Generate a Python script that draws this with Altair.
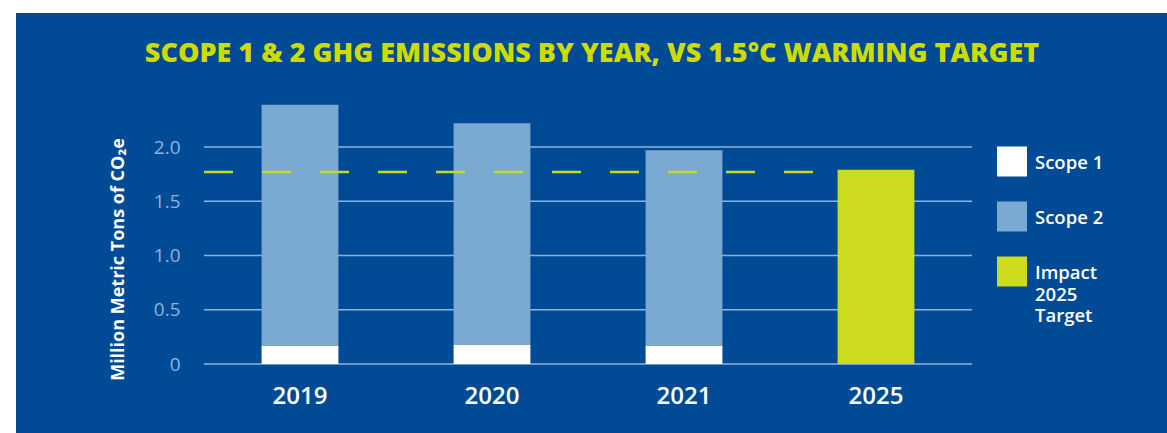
import altair as alt
import pandas as pd

# --- values -------------------------------------------------------------
YEARS = ["2019", "2020", "2021"]
SCOPE1 = [0.17, 0.18, 0.17]          # million metric tons CO2e
SCOPE2 = [2.22, 2.04, 1.80]
TARGET_YEAR = "2025"
TARGET_2025 = 1.79                   # Impact 2025 target bar
WARMING_LINE = 1.77                  # 1.5°C pathway reference line
Y_TICKS = [0, 0.5, 1.0, 1.5, 2.0]

SERIES = ["Scope 1", "Scope 2", "Impact 2025 Target"]
COLORS = ["#ffffff", "#7aaad2", "#ccdb1e"]

TITLE = "SCOPE 1 & 2 GHG EMISSIONS BY YEAR, VS 1.5°C WARMING TARGET"
Y_TITLE = "Million Metric Tons of CO₂e"

# --- styling ------------------------------------------------------------
NAVY = "#004a96"
GRID = "#8db3dc"
TICK_LABEL = "#8fb5de"
LIME_LINE = "#c8d82a"
FONT = "Open Sans"

W, H = 768, 217
PAD = {"left": 204, "top": 147, "right": 195, "bottom": 69}
DASH_END = 612

# --- tables -------------------------------------------------------------
rows = []
for yr, s1, s2 in zip(YEARS, SCOPE1, SCOPE2):
    rows.append({"year": yr, "series": "Scope 1", "value": s1, "ord": 0})
    rows.append({"year": yr, "series": "Scope 2", "value": s2, "ord": 1})
rows.append({"year": TARGET_YEAR, "series": "Impact 2025 Target",
             "value": TARGET_2025, "ord": 2})
bars_df = pd.DataFrame(rows)
grid_df = pd.DataFrame({"value": Y_TICKS})
line_df = pd.DataFrame({"value": [WARMING_LINE]})

y_scale = alt.Scale(domain=[0, 2.0], nice=False, zero=True)
y_axis = alt.Axis(
    values=Y_TICKS,
    labelExpr="datum.value == 0 ? '0' : format(datum.value, '.1f')",
    grid=False, domain=False, ticks=False, tickSize=0,
    labelPadding=24, labelFont=FONT, labelFontSize=19,
    labelColor=TICK_LABEL,
    title=Y_TITLE, titleFont=FONT, titleFontSize=18,
    titleFontWeight="bold", titleColor="white",
    titleAngle=270, titleX=-86, titleY=112,
    titleAlign="center", titleBaseline="middle", zindex=1,
)
y_enc = alt.Y("value:Q", scale=y_scale, axis=y_axis)

# navy panel behind everything
panel = alt.Chart(alt.Data(values=[{}])).mark_rect(color=NAVY).encode(
    x=alt.value(16 - PAD["left"]),
    x2=alt.value(W + PAD["right"]),
    y=alt.value(13 - PAD["top"]),
    y2=alt.value(H + PAD["bottom"]),
)

# horizontal gridlines (behind bars)
grid = alt.Chart(grid_df).mark_rule(color=GRID, strokeWidth=1.6).encode(
    y=y_enc,
    x=alt.value(0),
    x2=alt.value(W),
)

legend = alt.Legend(
    title=None,
    orient="none",
    legendX=W + 25,
    legendY=-8,
    padding=0,
    symbolType="M-1,-0.5H1V1.5H-1Z",
    symbolSize=900,
    symbolStrokeWidth=0,
    labelFont=FONT,
    labelFontSize=18.5,
    labelFontWeight=600,
    labelColor="white",
    labelOffset=8,
    labelBaseline="top",
    rowPadding=17,
    labelExpr="datum.label == 'Impact 2025 Target' ? ['Impact', '2025', 'Target'] : datum.label",
)

bars = alt.Chart(bars_df).mark_bar().encode(
    x=alt.X(
        "year:N",
        scale=alt.Scale(paddingInner=0.6, paddingOuter=0.3),
        axis=alt.Axis(
            title=None, labelAngle=0, labelFont=FONT, labelFontSize=24,
            labelFontWeight=600, labelColor="white", labelPadding=20,
            domain=False, ticks=False, tickSize=0, grid=False, zindex=1,
        ),
    ),
    y=alt.Y("value:Q", stack="zero", scale=y_scale, axis=y_axis),
    color=alt.Color("series:N", scale=alt.Scale(domain=SERIES, range=COLORS),
                    legend=legend),
    order=alt.Order("ord:Q", sort="ascending"),
)

# dashed 1.5°C line drawn over the bars
target_line = alt.Chart(line_df).mark_rule(
    color=LIME_LINE, strokeWidth=2.6, strokeDash=[29, 29]
).encode(
    y=y_enc,
    x=alt.value(0),
    x2=alt.value(DASH_END),
)

chart = alt.layer(panel, grid, bars, target_line).properties(
    width=W,
    height=H,
    padding=PAD,
    autosize=alt.AutoSizeParams(type="none"),
    background="white",
    title=alt.TitleParams(
        text=TITLE, font=FONT, fontSize=27, fontWeight=800,
        color="#cddc00", anchor="middle", frame="group",
        baseline="alphabetic", offset=-76, dx=4,
    ),
).configure(
    style={"guide-label": {"lineHeight": 21.5}}
).configure_view(strokeWidth=0)

chart.save("out.html", embed_options={"renderer": "svg", "actions": False})
